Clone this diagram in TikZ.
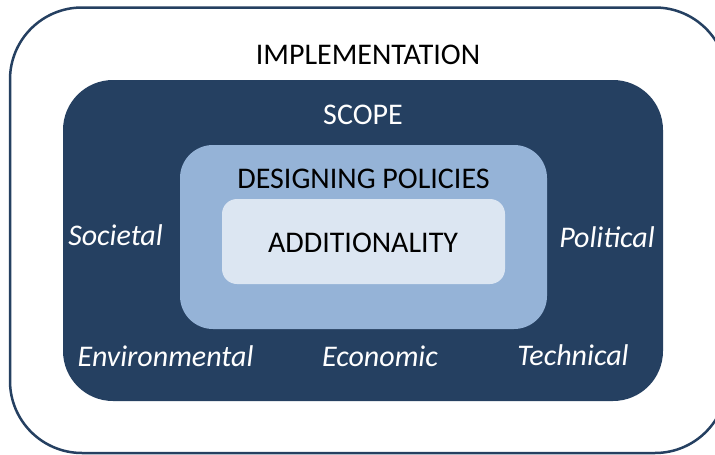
\documentclass[tikz,border=0pt]{standalone}
\usepackage{fontspec}
\setmainfont{Carlito}
\definecolor{navy}{HTML}{254061}
\definecolor{midblue}{HTML}{95B3D7}
\definecolor{paleblue}{HTML}{DCE6F2}
\tikzset{
  lbl/.style={anchor=base, inner sep=0pt, font=\fontsize{30}{30}\selectfont},
  dimlbl/.style={lbl, text=white, font=\fontsize{30}{30}\selectfont\itshape},
}
\begin{document}
\begin{tikzpicture}[x=1pt,y=-1pt]
\useasboundingbox (0,0) rectangle (715,455);
\fill[white] (0,0) rectangle (715,455);
% outer frame
\draw[navy, line width=2.5pt, rounded corners=72pt] (10,7.5) rectangle (727,453);
% scope box
\fill[navy, rounded corners=50pt] (63,80) rectangle (663,401);
% designing policies box
\fill[midblue, rounded corners=33pt] (180,145) rectangle (547,329);
% additionality box
\fill[paleblue, rounded corners=15pt] (222,199) rectangle (505,284);
% texts
\node[lbl] (impl) at (368,64) {IMPLEMENTATION};
\node[lbl, text=white] (scope) at (363,124) {SCOPE};
\node[lbl] (design) at (363.5,188) {DESIGNING POLICIES};
\node[lbl] (addit) at (363,252) {ADDITIONALITY};
\node[dimlbl] (soc) at (115.5,245) {Societal};
\node[dimlbl] (pol) at (607,247) {Political};
\node[dimlbl] (env) at (165.5,366) {Environmental};
\node[dimlbl] (eco) at (380,366) {Economic};
\node[dimlbl] (tec) at (573,365) {Technical};
\end{tikzpicture}
\end{document}
